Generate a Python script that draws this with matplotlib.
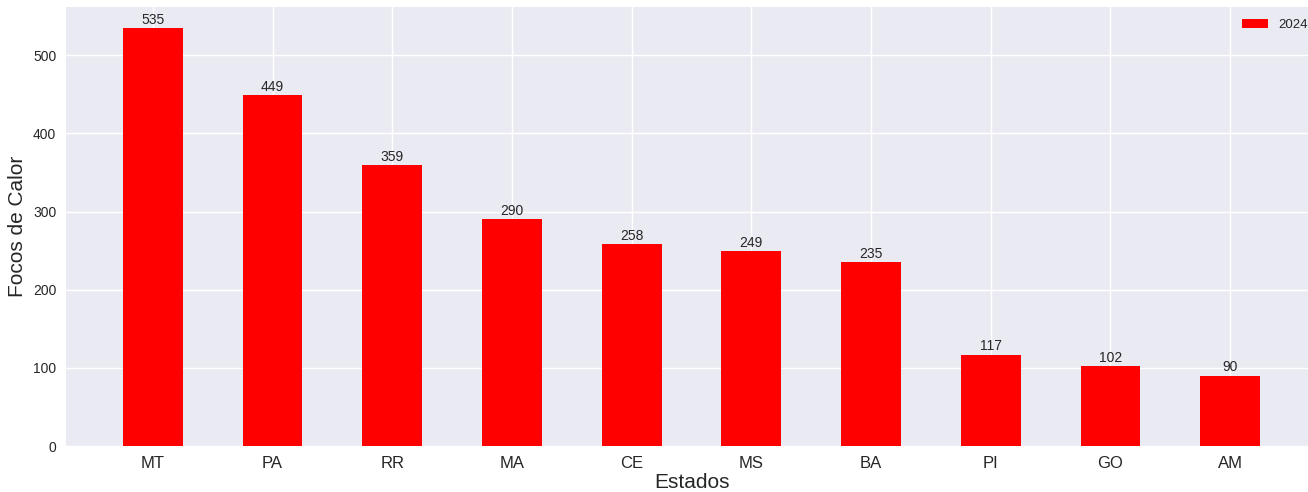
import matplotlib
matplotlib.use("Agg")
import matplotlib.pyplot as plt

plt.style.use("seaborn-v0_8")

estados = ["MT", "PA", "RR", "MA", "CE", "MS", "BA", "PI", "GO", "AM"]
focos_2024 = [535, 449, 359, 290, 258, 249, 235, 117, 102, 90]

fig = plt.figure(figsize=(13.08, 4.92), dpi=100)
ax = fig.add_axes([66/1308, (492-446)/492, (1317-66)/1308, (446-7)/492])

x = list(range(len(estados)))
bars = ax.bar(x, focos_2024, width=0.5, color="red", label="2024")
ax.bar_label(bars, fontsize=10, color="#262626", padding=1)
ax.set_xticks(x)
ax.set_xticklabels(estados, fontsize=12)
ax.tick_params(axis="y", labelsize=10)
ax.set_xlim(-0.725, 9.725)
ax.set_ylim(0, 561.75)
ax.set_xlabel("Estados", fontsize=15, labelpad=2)
ax.set_ylabel("Focos de Calor", fontsize=15)
ax.legend(loc="upper right", fontsize=9.5, bbox_to_anchor=(1.0025, 1.0))

fig.savefig("out.png", dpi=100)
